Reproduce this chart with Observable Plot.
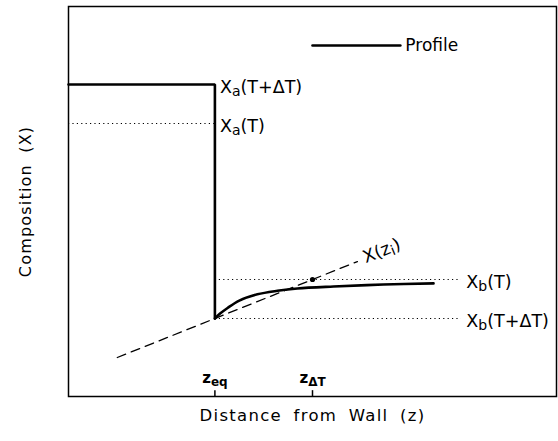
<!DOCTYPE html>
<html><head><meta charset="utf-8">
<script src="https://cdn.jsdelivr.net/npm/d3@7"></script>
<script src="https://cdn.jsdelivr.net/npm/@observablehq/plot@0.6"></script>
<style>body{margin:0;background:#fff} #chart svg{font-family:"DejaVu Sans",sans-serif;background:#fff}</style>
</head><body><div id="chart"></div>
<script>
// Step profile (phase a -> interface)
const stepX = [0, 3, 3];
const stepY = [8, 8, 2];
// Curved profile in phase b
const curveX = [3, 3.1, 3.26, 3.5, 3.87, 4.28, 4.69, 5.43, 6.45, 7.48];
const curveY = [2, 2.12, 2.27, 2.46, 2.62, 2.71, 2.77, 2.82, 2.87, 2.9];
// Dashed tangent X(zi)
const dashX = [1, 5.92];
const dashY = [1, 3.46];
// Point on tangent
const pointX = [5];
const pointY = [3];
// Dotted reference levels
const refNames = ["Xa(T)", "Xb(T)", "Xb(T+ΔT)"];
const refX1 = [0, 3, 3];
const refX2 = [3, 8.05, 8.05];
const refY = [7, 3, 2];
// Annotation labels
const labelText = ["X_{a}(T+ΔT)", "X_{a}(T)", "X_{b}(T)", "X_{b}(T+ΔT)"];
const labelX = [3, 3, 8.05, 8.05];
const labelY = [8, 7, 3, 2];
// X axis ticks
const tickZ = [3, 5];
const tickLabels = ["z_{eq}", "z_{ΔT}"];
// Legend
const legendX = [5, 6.8];
const legendY = [9, 9];
const legendLabel = "Profile";

const pts = (xs, ys) => xs.map((x, i) => ({x, y: ys[i]}));
const refs = refNames.map((n, i) => ({n, x1: refX1[i], x2: refX2[i], y: refY[i]}));
const labels = labelText.map((t, i) => ({t, x: labelX[i], y: labelY[i]}));

const chart = Plot.plot({
  width: 558, height: 441,
  marginLeft: 68, marginRight: 2, marginTop: 6, marginBottom: 45,
  x: {domain: [0, 10], axis: null},
  y: {domain: [0, 10], axis: null},
  marks: [
    Plot.frame({stroke: "#000", strokeWidth: 1.5}),
    Plot.ruleY(refs, {x1: "x1", x2: "x2", y: "y", stroke: "#000", strokeWidth: 1, strokeDasharray: "1.2,3.2"}),
    Plot.line(pts(dashX, dashY), {x: "x", y: "y", stroke: "#000", strokeWidth: 1.3, strokeDasharray: "9,6"}),
    Plot.line(pts(stepX, stepY), {x: "x", y: "y", stroke: "#000", strokeWidth: 2.6, strokeLinejoin: "miter"}),
    Plot.line(pts(curveX, curveY), {x: "x", y: "y", stroke: "#000", strokeWidth: 2.6, curve: "catmull-rom"}),
    Plot.dot(pts(pointX, pointY), {x: "x", y: "y", r: 2.6, fill: "#000", stroke: "none"}),
    Plot.text(labels, {x: "x", y: "y", text: "t", textAnchor: "start", dx: 5, dy: 3, fontSize: 17.5, fill: "#000"}),
    Plot.text(["X(z_{i})"], {x: 6.05, y: 3.55, text: d => d, textAnchor: "start", rotate: -22, fontSize: 17.5, fill: "#000"}),
    Plot.ruleX(tickZ, {x: d => d, y1: 0, y2: 0.15, stroke: "#000", strokeWidth: 1.5}),
    Plot.text(tickZ, {x: d => d, y: 0, text: (d, i) => tickLabels[i], dy: -18, fontSize: 15, fontWeight: "bold", fill: "#000"}),
    Plot.line(pts(legendX, legendY), {x: "x", y: "y", stroke: "#000", strokeWidth: 2.6}),
    Plot.text([legendLabel], {x: legendX[1], y: legendY[0], text: d => d, textAnchor: "start", dx: 5, fontSize: 17, fill: "#000"}),
    Plot.text(["Composition (X)"], {frameAnchor: "left", textAnchor: "middle", text: d => d, rotate: -90, dx: -43, fontSize: 16, fill: "#000"}),
    Plot.text(["Distance from Wall (z)"], {frameAnchor: "bottom", textAnchor: "middle", text: d => d, dy: 24, fontSize: 16.5, fill: "#000"})
  ]
});
document.getElementById("chart").appendChild(chart);

// Subscripts: turn "_{...}" into lowered, smaller tspans
d3.select(chart).selectAll("text").each(function() {
  const el = this;
  const s = el.textContent;
  if (!s.includes("_{")) return;
  const parts = s.split(/(_\{[^}]*\})/);
  while (el.firstChild) el.removeChild(el.firstChild);
  const ns = "http://www.w3.org/2000/svg";
  let shifted = false;
  parts.forEach(p => {
    if (!p) return;
    const ts = document.createElementNS(ns, "tspan");
    if (p.startsWith("_{")) {
      ts.textContent = p.slice(2, -1);
      ts.setAttribute("dy", "0.22em");
      ts.setAttribute("font-size", "80%");
      shifted = true;
    } else {
      ts.textContent = p;
      if (shifted) { ts.setAttribute("dy", "-0.18em"); shifted = false; }
    }
    el.appendChild(ts);
  });
});
// Axis titles letter/word spacing
d3.select(chart).selectAll("text").filter(function(){ return this.textContent === "Distance from Wall (z)"; })
  .attr("letter-spacing", "1.3px").attr("word-spacing", "5px");
d3.select(chart).selectAll("text").filter(function(){ return this.textContent === "Composition (X)"; })
  .attr("letter-spacing", "1.2px").attr("word-spacing", "5px");
</script></body></html>
